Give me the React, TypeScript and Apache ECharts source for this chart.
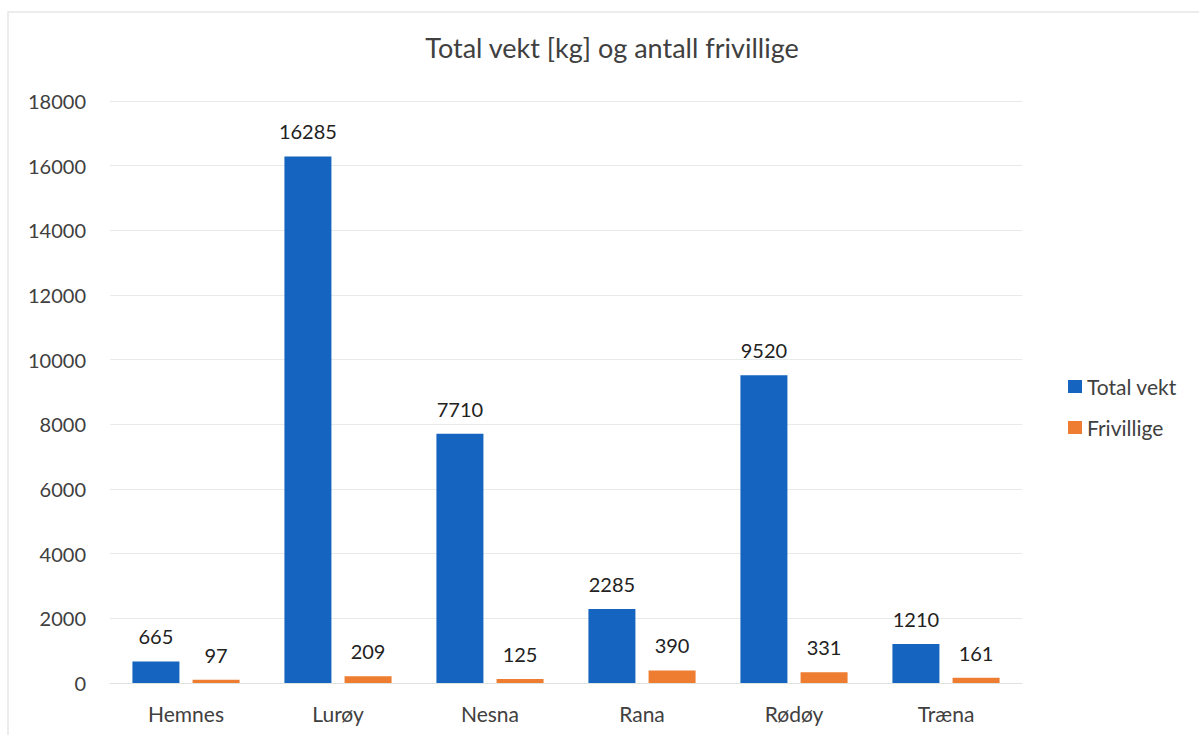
import React, { useEffect, useRef } from "react";
import * as echarts from "echarts";

const categories = ["Hemnes", "Lurøy", "Nesna", "Rana", "Rødøy", "Træna"];
const totalVekt = [665, 16285, 7710, 2285, 9520, 1210];
const frivillige = [97, 209, 125, 390, 331, 161];
const seriesNames = ["Total vekt", "Frivillige"];
const titleText = "Total vekt [kg] og antall frivillige";

const FONT = "Lato, 'Open Sans', sans-serif";

export default function App() {
  const ref = useRef<HTMLDivElement>(null);
  useEffect(() => {
    document.body.style.margin = "0";
    const chart = echarts.init(ref.current!, null, { renderer: "svg" });
    const labelStyle = {
      show: true,
      position: "top",
      distance: 15,
      fontFamily: FONT,
      fontSize: 20,
      color: "#222222",
    };
    chart.setOption({
      animation: false,
      backgroundColor: "#ffffff",
      textStyle: { fontFamily: FONT },
      title: {
        text: titleText,
        left: 607,
        top: 29,
        textAlign: "center",
        textStyle: { fontFamily: FONT, fontSize: 27, fontWeight: "normal", color: "#404040" },
      },
      graphic: [
        {
          type: "rect",
          shape: { x: 8, y: 12, width: 1200, height: 730 },
          style: { fill: "none", stroke: "#e3e8e4", lineWidth: 1.5 },
          silent: true,
        },
      ],
      legend: {
        orient: "vertical",
        left: 1063,
        top: 371,
        itemWidth: 14,
        itemHeight: 13,
        itemGap: 20,
        icon: "rect",
        textStyle: { fontFamily: FONT, fontSize: 21, color: "#404040" },
        data: seriesNames,
      },
      grid: { left: 110, right: 177, top: 101, bottom: 52, containLabel: false },
      xAxis: {
        type: "category",
        data: categories,
        axisTick: { show: false },
        axisLine: { lineStyle: { color: "#dfe3df", width: 1 } },
        axisLabel: { fontFamily: FONT, fontSize: 21, color: "#404040", margin: 20 },
      },
      yAxis: {
        type: "value",
        min: 0,
        max: 18000,
        interval: 2000,
        axisLine: { show: false },
        axisTick: { show: false },
        splitLine: { lineStyle: { color: "#e6ebe7", width: 1 } },
        axisLabel: {
          fontFamily: FONT,
          fontSize: 20,
          color: "#404040",
          margin: 24,
          formatter: (v: number) => String(v),
        },
      },
      series: [
        {
          name: seriesNames[0],
          type: "bar",
          data: totalVekt,
          barWidth: 47,
          barGap: "28%",
          itemStyle: { color: "#1565c0" },
          label: labelStyle,
        },
        {
          name: seriesNames[1],
          type: "bar",
          data: frivillige,
          barWidth: 47,
          barGap: "28%",
          itemStyle: { color: "#ee7d31" },
          label: labelStyle,
        },
      ],
    });
    return () => chart.dispose();
  }, []);
  return (
    <div
      ref={ref}
      style={{ position: "absolute", left: 0, top: 0, width: 1199, height: 735 }}
    />
  );
}
